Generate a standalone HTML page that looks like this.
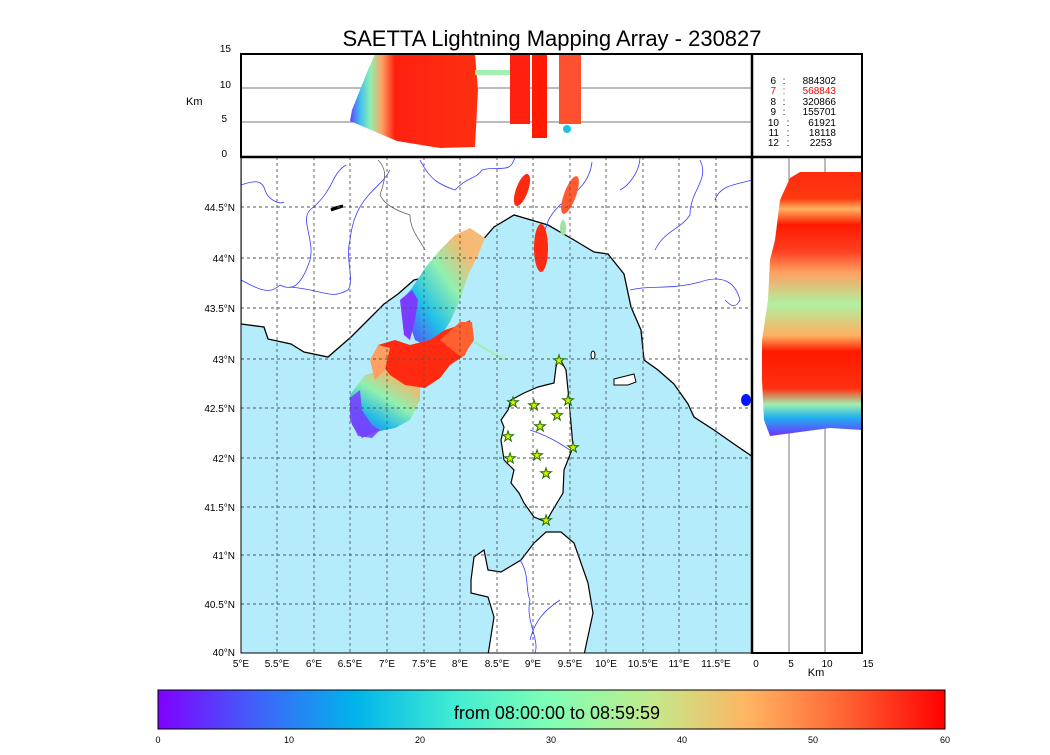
<!DOCTYPE html>
<html><head><meta charset="utf-8"><style>
body{margin:0;background:#fff;width:1050px;height:750px;overflow:hidden;font-family:"Liberation Sans",sans-serif}
</style></head><body>
<svg width="1050" height="750" viewBox="0 0 1050 750" xmlns="http://www.w3.org/2000/svg" font-family="Liberation Sans, sans-serif">
<defs>
<linearGradient id="rb" x1="0" x2="1" y1="0" y2="0">
<stop offset="0" stop-color="#8000ff"/><stop offset="0.125" stop-color="#4062fa"/>
<stop offset="0.25" stop-color="#00b4eb"/><stop offset="0.375" stop-color="#40ecd4"/>
<stop offset="0.5" stop-color="#80ffb4"/><stop offset="0.625" stop-color="#c0eb8d"/>
<stop offset="0.75" stop-color="#ffb462"/><stop offset="0.875" stop-color="#ff6232"/>
<stop offset="1" stop-color="#ff0000"/></linearGradient>
<linearGradient id="swath" x1="0" y1="1" x2="1" y2="0">
<stop offset="0" stop-color="#6a30ff"/><stop offset="0.3" stop-color="#20c0e8"/><stop offset="0.55" stop-color="#90f0b0"/><stop offset="0.8" stop-color="#f8b870"/><stop offset="1" stop-color="#f0c080"/></linearGradient>
<linearGradient id="tail" x1="0" y1="1" x2="0.6" y2="0">
<stop offset="0" stop-color="#7040ff"/><stop offset="0.35" stop-color="#20b8e8"/><stop offset="0.65" stop-color="#90f0b0"/><stop offset="1" stop-color="#ffb060"/></linearGradient>
<linearGradient id="tp" x1="0" x2="1" y1="0" y2="0">
<stop offset="0" stop-color="#6040ff"/><stop offset="0.08" stop-color="#40c0f0"/><stop offset="0.16" stop-color="#90f0b0"/><stop offset="0.25" stop-color="#ffa060"/><stop offset="0.35" stop-color="#ff2010"/><stop offset="1" stop-color="#ff3010"/></linearGradient>
<linearGradient id="rp" x1="0" x2="0" y1="0" y2="1">
<stop offset="0" stop-color="#ff2a10"/><stop offset="0.1" stop-color="#ff3a10"/><stop offset="0.14" stop-color="#ffb060"/><stop offset="0.2" stop-color="#ff1a00"/><stop offset="0.3" stop-color="#ff4020"/><stop offset="0.38" stop-color="#ffa060"/><stop offset="0.5" stop-color="#b0f0a0"/><stop offset="0.62" stop-color="#ffb060"/><stop offset="0.68" stop-color="#ff1a00"/><stop offset="0.82" stop-color="#ff3010"/><stop offset="0.88" stop-color="#a0f0b0"/><stop offset="0.93" stop-color="#20b0f0"/><stop offset="1" stop-color="#7030ff"/></linearGradient>
<clipPath id="mc"><rect x="241" y="157" width="511" height="496"/></clipPath>
<clipPath id="tc"><rect x="241" y="54" width="511" height="103"/></clipPath>
<clipPath id="rc"><rect x="752" y="157" width="110" height="496"/></clipPath>
</defs>
<text x="552" y="46" font-size="22" text-anchor="middle">SAETTA Lightning Mapping Array - 230827</text>

<g clip-path="url(#mc)">
<rect x="241" y="157" width="511" height="496" fill="#b4ecfc"/>
<polygon fill="#fff" stroke="#000" stroke-width="1.3" points="241,157 753,157 753,457 734,444 714,430 694,417 688,404 674,384 658,370 644,360 641,330 631,307 624,274 608,254 594,252 574,240 548,225 514,215 494,227 474,250 451,267 428,277 414,280 398,294 384,304 368,320 351,337 328,357 304,352 291,344 268,339 264,327 241,324"/>
<polygon fill="#fff" stroke="#000" stroke-width="1.2" points="559,357 566,370 569,400 573,447 564,470 563,493 551,513 546,522 534,517 524,503 519,493 511,483 514,470 504,460 501,440 504,427 501,420 508,410 511,400 524,393 538,387 554,383 556,367"/>
<polygon fill="#fff" stroke="#000" stroke-width="1.2" points="546,532 561,532 574,543 581,563 588,583 593,613 584,655 488,655 494,617 488,597 471,593 471,580 474,557 484,550 488,570 501,572 521,560 534,543"/>
<path d="M614,379 l12,-3 l8,-2 l2,8 l-8,3 l-14,0z" fill="#fff" stroke="#000"/>
<ellipse cx="593" cy="355" rx="2" ry="4" fill="#fff" stroke="#000"/>
<ellipse cx="746" cy="400" rx="5" ry="6" fill="#0018ff"/>
<g fill="none" stroke="#3a3aff" stroke-width="0.8">
<path d="M241,185 C255,180 262,180 265,190 S280,205 284,202"/>
<path d="M346,165 C330,175 335,190 310,210 C300,220 315,240 310,260 C300,290 290,290 280,285 C270,295 260,290 241,280"/>
<path d="M390,170 C380,190 355,195 350,240 C345,260 355,280 348,290 C330,300 325,290 290,287"/>
<path d="M420,160 C430,180 440,185 455,190 C470,175 475,180 482,170 C500,165 510,175 515,157"/>
<path d="M592,162 C590,180 580,190 560,205 C550,215 548,220 545,230"/>
<path d="M640,157 C640,170 630,185 620,190"/>
<path d="M700,160 C710,180 690,190 690,215 C680,230 665,230 655,250"/>
<path d="M752,180 C735,185 720,185 715,200"/>
<path d="M630,290 C650,285 670,290 700,282 C720,275 735,280 740,300 C735,310 730,305 725,300"/>
<path d="M530,430 C545,435 555,440 570,450"/>
<path d="M520,560 C530,575 525,590 530,600 M530,600 C525,620 540,640 535,653 M560,600 C545,610 535,620 530,640"/>
</g>
<g fill="none" stroke="#666" stroke-width="0.8"><path d="M378,160 C388,170 385,180 380,195 C385,205 395,210 410,215 C410,230 420,240 425,250"/></g>
<path d="M331,210 l12,-4 l-8,2z" stroke="#000" stroke-width="3"/>
<polygon fill="url(#swath)" points="402,300 412,288 425,268 440,250 455,235 470,228 485,238 478,255 468,275 460,300 450,322 438,340 425,345 415,340 410,325 405,312"/>
<polygon fill="#7a3cff" points="400,300 412,290 418,300 415,320 410,340 404,335"/>
<polygon fill="url(#tail)" points="350,395 365,375 385,370 400,368 420,380 420,400 410,420 395,428 375,432 362,438 352,425"/>
<polygon fill="#ff2a10" points="378,345 395,340 410,345 430,340 445,330 460,325 470,320 473,335 465,355 450,365 440,378 425,388 405,385 390,375 378,360"/>
<polygon fill="#ffa060" points="370,360 378,345 390,348 385,370 375,380"/>
<polygon fill="#ff6030" points="440,340 460,322 472,322 474,340 462,358"/>
<polygon fill="#7a3cff" opacity="0.85" points="350,398 360,390 362,410 372,425 380,430 372,438 358,436 350,420"/>
<line x1="474" y1="342" x2="505" y2="360" stroke="#a0f0b0" stroke-width="2"/>
<ellipse cx="522" cy="190" rx="6" ry="17" fill="#ff2a10" transform="rotate(20 522 190)"/>
<ellipse cx="541" cy="248" rx="7" ry="24" fill="#ff2a10"/>
<ellipse cx="570" cy="195" rx="6" ry="20" fill="#ff5a30" transform="rotate(20 570 195)"/>
<ellipse cx="563" cy="228" rx="3" ry="8" fill="#a0e0a0"/>
<g stroke="#555" stroke-width="0.9" stroke-dasharray="3,3">
<path d="M277,157V653M314,157V653M350,157V653M387,157V653M424,157V653M460,157V653M497,157V653M533,157V653M570,157V653M606,157V653M643,157V653M679,157V653M716,157V653"/>
<path d="M241,207H752M241,258H752M241,308H752M241,359H752M241,408H752M241,458H752M241,507H752M241,555H752M241,604H752"/>
</g>
<g fill="#e0f000" stroke="#207000" stroke-width="1" font-size="14">
<text x="559" y="365" text-anchor="middle">★</text><text x="513" y="407" text-anchor="middle">★</text><text x="534" y="410" text-anchor="middle">★</text><text x="568" y="405" text-anchor="middle">★</text><text x="557" y="420" text-anchor="middle">★</text><text x="540" y="431" text-anchor="middle">★</text><text x="508" y="441" text-anchor="middle">★</text><text x="573" y="452" text-anchor="middle">★</text><text x="537" y="460" text-anchor="middle">★</text><text x="510" y="463" text-anchor="middle">★</text><text x="546" y="478" text-anchor="middle">★</text><text x="546" y="525" text-anchor="middle">★</text>
</g>
</g>
<rect x="241" y="157" width="511" height="496" fill="none" stroke="#000" stroke-width="1"/>
<g font-size="10" text-anchor="end">
<text x="235" y="211">44.5°N</text><text x="235" y="262">44°N</text><text x="235" y="312">43.5°N</text><text x="235" y="363">43°N</text><text x="235" y="412">42.5°N</text><text x="235" y="462">42°N</text><text x="235" y="511">41.5°N</text><text x="235" y="559">41°N</text><text x="235" y="608">40.5°N</text><text x="235" y="656">40°N</text>
</g>
<g font-size="10" text-anchor="middle">
<text x="241" y="667">5°E</text><text x="277" y="667">5.5°E</text><text x="314" y="667">6°E</text><text x="350" y="667">6.5°E</text><text x="387" y="667">7°E</text><text x="424" y="667">7.5°E</text><text x="460" y="667">8°E</text><text x="497" y="667">8.5°E</text><text x="533" y="667">9°E</text><text x="570" y="667">9.5°E</text><text x="606" y="667">10°E</text><text x="643" y="667">10.5°E</text><text x="679" y="667">11°E</text><text x="716" y="667">11.5°E</text>
</g>

<g clip-path="url(#tc)">
<path d="M241,88H752M241,122H752" stroke="#777" stroke-width="1"/>
<polygon fill="url(#tp)" points="350,121 352,110 360,90 368,70 375,54 475,54 478,90 475,147 440,148 397,141"/>
<rect x="510" y="54" width="20" height="70" fill="#ff2010"/>
<rect x="532" y="54" width="15" height="84" fill="#ff1a00"/>
<rect x="559" y="54" width="22" height="70" fill="#ff5030"/>
<rect x="475" y="70" width="35" height="5" fill="#a0f0b0"/>
<ellipse cx="567" cy="129" rx="4" ry="4" fill="#20c0e0"/>
</g>
<rect x="241" y="54" width="621" height="103" fill="none" stroke="#000" stroke-width="2"/>
<line x1="752" y1="54" x2="752" y2="653" stroke="#000" stroke-width="2.5"/>
<line x1="241" y1="157" x2="862" y2="157" stroke="#000" stroke-width="2.5"/>
<g font-size="10" text-anchor="end"><text x="231" y="52">15</text><text x="231" y="88">10</text><text x="227" y="122">5</text><text x="227" y="157">0</text></g>
<text x="186" y="105" font-size="11">Km</text>
<g font-size="10">
<g text-anchor="end"><text x="776" y="84">6</text><text x="776" y="94" fill="#f00">7</text><text x="776" y="105">8</text><text x="776" y="115">9</text><text x="779" y="126">10</text><text x="779" y="136">11</text><text x="779" y="146">12</text></g>
<g text-anchor="middle"><text x="784" y="84">:</text><text x="784" y="94" fill="#f00">:</text><text x="784" y="105">:</text><text x="784" y="115">:</text><text x="788" y="126">:</text><text x="788" y="136">:</text><text x="788" y="146">:</text></g>
<g text-anchor="end"><text x="836" y="84">884302</text><text x="836" y="94" fill="#f00">568843</text><text x="836" y="105">320866</text><text x="836" y="115">155701</text><text x="836" y="126">61921</text><text x="836" y="136">18118</text><text x="832" y="146">2253</text></g>
</g>

<g clip-path="url(#rc)">
<path d="M789,157V653M825,157V653" stroke="#777" stroke-width="1"/>
<polygon fill="url(#rp)" points="790,178 800,172 862,172 862,430 830,428 800,432 770,436 764,420 762,380 762,340 768,300 770,260 775,240 780,200"/>
</g>
<rect x="752" y="157" width="110" height="496" fill="none" stroke="#000" stroke-width="2"/>
<g font-size="10" text-anchor="middle"><text x="756" y="667">0</text><text x="791" y="667">5</text><text x="827" y="667">10</text><text x="868" y="667">15</text></g>
<text x="816" y="676" font-size="11" text-anchor="middle">Km</text>

<rect x="158" y="690" width="787" height="39" fill="url(#rb)" stroke="#000" stroke-width="1"/>
<text x="557" y="719" font-size="18" text-anchor="middle">from 08:00:00 to 08:59:59</text>
<g font-size="9" text-anchor="middle"><text x="158" y="743">0</text><text x="289" y="743">10</text><text x="420" y="743">20</text><text x="551" y="743">30</text><text x="682" y="743">40</text><text x="813" y="743">50</text><text x="945" y="743">60</text></g>
</svg>
</body></html>
